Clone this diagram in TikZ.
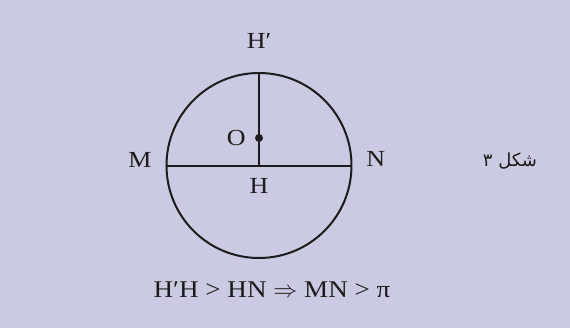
\documentclass[tikz,border=0pt]{standalone}
\usepackage{fontspec}
\setmainfont[FakeStretch=1.13]{Liberation Serif}
\newfontfamily\arabicfont[Script=Arabic]{DejaVu Sans}
\TeXXeTstate=1
\usetikzlibrary{positioning}
\definecolor{panel}{RGB}{202,202,226}
\definecolor{ink}{RGB}{30,27,28}

\begin{document}
\begin{tikzpicture}[
  x=0.5pt,
  y=-0.5pt,
  font=\fontsize{11.5}{13}\selectfont,
  line width=1pt,
  ring/.style={
    draw=ink,
    circle,
    minimum size=92.5pt,
    inner sep=0pt,
    outer sep=0pt
  },
  dot/.style={fill=ink, circle, minimum size=4pt, inner sep=0pt},
  lbl/.style={text=ink, inner sep=2pt}
]

\fill[panel] (0,0) rectangle (570,328);

\node[ring] (circ) at (259,165.5) {};
\node[dot] (o) at (259,138) {};

\draw[ink] (circ.west) -- (circ.east);
\draw[ink] (circ.north) -- (circ.center);

\node[lbl, above=10pt of circ.north] (hp) {H′};
\node[lbl, below=3.8pt of circ.center] (h) {H};
\node[lbl, left=1.7pt of o] (olbl) {O};
\node[lbl, anchor=base east] (m) at ([xshift=-5pt, yshift=-0.8pt]circ.west) {M};
\node[lbl, anchor=base west] (n) at ([xshift=5pt, yshift=-0.5pt]circ.east) {N};

\node[lbl, anchor=base, font=\fontsize{12}{14}\selectfont] (rel) at (272,297) {
  H′H > HN $\Rightarrow$ MN > π
};

\node[lbl, anchor=base, font=\fontsize{9}{11}\arabicfont] (fig) at (510,166.5) {\beginR شکل ۳\endR};

\end{tikzpicture}
\end{document}
